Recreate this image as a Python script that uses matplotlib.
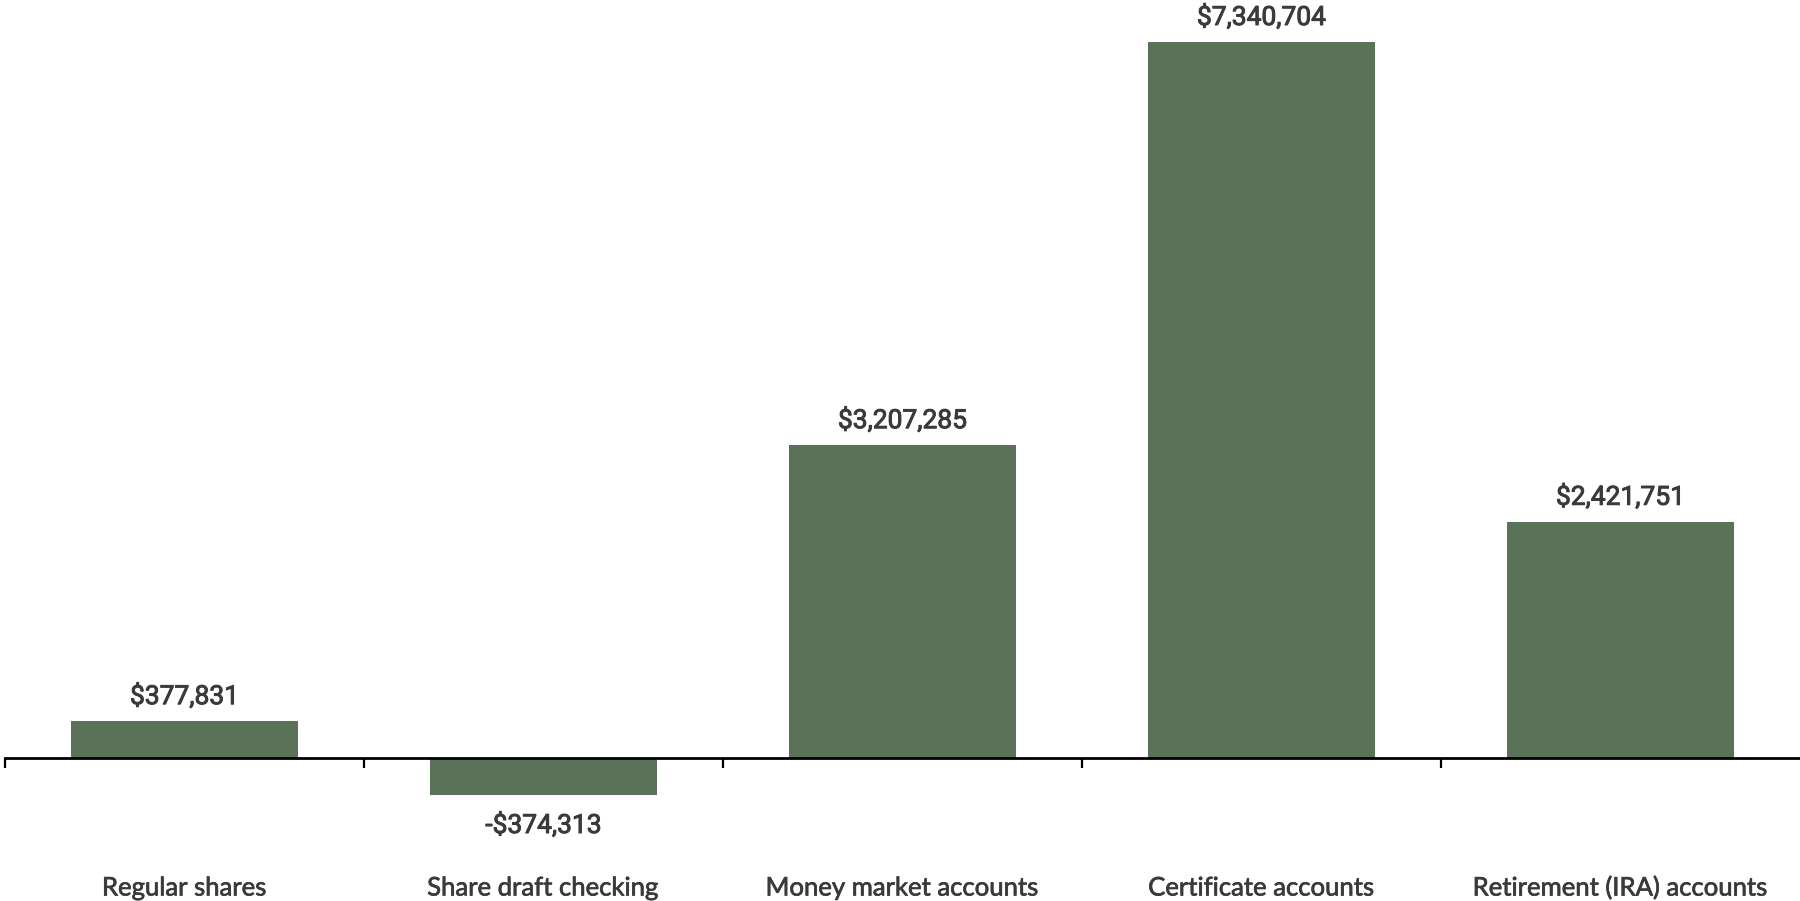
import matplotlib
matplotlib.use("Agg")
import matplotlib.pyplot as plt
import matplotlib.transforms as mtransforms
import matplotlib.patheffects as pe

categories = ["Regular shares", "Share draft checking", "Money market accounts",
              "Certificate accounts", "Retirement (IRA) accounts"]
values = [377831, -374313, 3207285, 7340704, 2421751]

bar_color = "#5a7358"
text_color = "#3a3a3a"

fig = plt.figure(figsize=(18, 9.01), dpi=100)
ax = fig.add_axes([5 / 1800, 0, 1 - 5 / 1800, 1])

x = list(range(len(categories)))
ax.bar(x, values, width=0.63, color=bar_color, zorder=2)

vmax = max(values)
ax.set_ylim(-143 / 716 * vmax, 758 / 716 * vmax)
ax.set_xlim(-0.5, len(categories) - 0.5)

for s in ["top", "left", "right"]:
    ax.spines[s].set_visible(False)
ax.spines["bottom"].set_position(("data", 0))
ax.spines["bottom"].set_linewidth(2.0)
ax.spines["bottom"].set_color("black")
ax.spines["bottom"].set_zorder(3)
ax.set_yticks([])
ax.set_xticks([i - 0.5 for i in x])
ax.set_xticklabels([])
ax.tick_params(axis="x", length=7, width=1.6, color="black", direction="out")

thick = [pe.withStroke(linewidth=0.7, foreground=text_color)]

for xi, v in zip(x, values):
    label = f"${v:,}" if v >= 0 else f"-${-v:,}"
    if v >= 0:
        ax.annotate(label, (xi, v), xytext=(0, 12), textcoords="offset pixels",
                    ha="center", va="bottom", fontsize=19, color=text_color,
                    family=["Roboto", "DejaVu Sans"], path_effects=thick)
    else:
        ax.annotate(label, (xi, v), xytext=(0, -18), textcoords="offset pixels",
                    ha="center", va="top", fontsize=19, color=text_color,
                    family=["Roboto", "DejaVu Sans"], path_effects=thick)

trans = mtransforms.blended_transform_factory(ax.transData, fig.transFigure)
for xi, c in zip(x, categories):
    ax.text(xi, 1 - 888 / 901, c, transform=trans, ha="center", va="center",
            fontsize=18.5, color=text_color, family=["Lato", "DejaVu Sans"],
            path_effects=[pe.withStroke(linewidth=0.5, foreground=text_color)])

fig.savefig("out.png", dpi=100, facecolor="white")
